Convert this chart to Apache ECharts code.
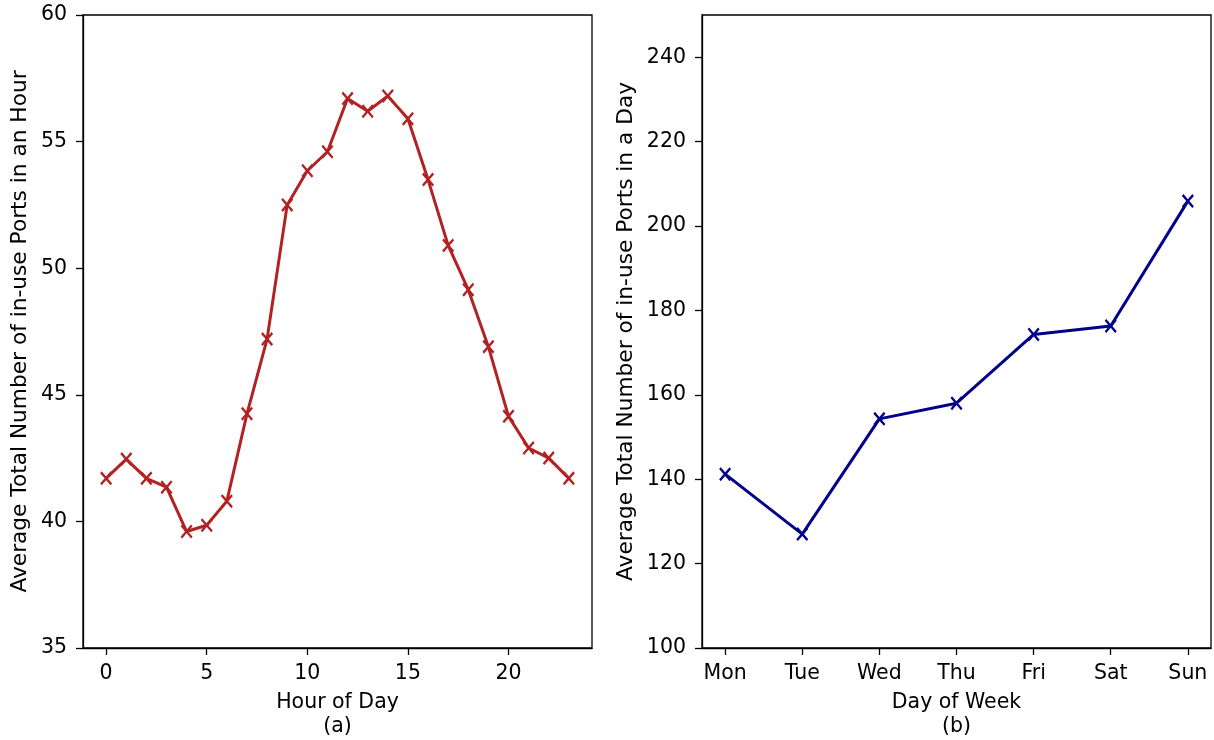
<!DOCTYPE html>
<html>
<head>
<meta charset="utf-8">
<script src="https://cdn.jsdelivr.net/npm/echarts@6/dist/echarts.min.js"></script>
<style>html,body{margin:0;padding:0;background:#fff}#c{width:1214px;height:740px}</style>
</head>
<body>
<div id="c"></div>
<script>
const hours = [0,1,2,3,4,5,6,7,8,9,10,11,12,13,14,15,16,17,18,19,20,21,22,23];
const hourValues = [41.7,42.46,41.7,41.35,39.6,39.85,40.8,44.25,47.2,52.5,53.85,54.6,56.7,56.2,56.8,55.9,53.5,50.9,49.15,46.9,44.15,42.9,42.5,41.7];
const hourTicks = [0,5,10,15,20];
const days = ['Mon','Tue','Wed','Thu','Fri','Sat','Sun'];
const dayValues = [141.2,127.0,154.3,158.0,174.3,176.3,205.9];
const hourYTicks = [35,40,45,50,55,60];
const dayYTicks = [100,120,140,160,180,200,220,240];

const FONT = 'DejaVu Sans';
const FS = 20.5;
const FSV = 21.7;
const XSYM = 'path://M1.3,0 L5,3.7 L8.7,0 L10,1.3 L6.3,5 L10,8.7 L8.7,10 L5,6.3 L1.3,10 L0,8.7 L3.7,5 L0,1.3 Z';
const AX = '#000';

function tick(vals){
  return {show:true,length:7,lineStyle:{color:AX,width:1.3},customValues:vals};
}
function label(vals, margin, fmt){
  const o = {customValues:vals,fontFamily:FONT,fontSize:FS,color:'#000',margin:margin};
  if (fmt) o.formatter = fmt;
  return o;
}
const axisLine = {show:true,onZero:false,lineStyle:{color:AX,width:1.3}};
const xName = {fontFamily:FONT,fontSize:FS,color:'#000',lineHeight:24};
const yName = {fontFamily:FONT,fontSize:FSV,color:'#000',lineHeight:26};

const chart = echarts.init(document.getElementById('c'), null, {renderer:'canvas'});
chart.setOption({
  backgroundColor:'#fff',
  animation:false,
  grid:[
    {left:83,top:15,width:509,height:633,show:true,borderColor:AX,borderWidth:1.3,backgroundColor:'transparent',containLabel:false,outerBoundsMode:'none'},
    {left:702,top:15,width:509,height:633,show:true,borderColor:AX,borderWidth:1.3,backgroundColor:'transparent',containLabel:false,outerBoundsMode:'none'}
  ],
  xAxis:[
    {type:'value',gridIndex:0,min:-1.15,max:24.15,
     name:'Hour of Day\n(a)',nameLocation:'middle',nameGap:43,nameTextStyle:xName,
     axisLine:axisLine,splitLine:{show:false},
     axisTick:tick(hourTicks),axisLabel:label(hourTicks,15)},
    {type:'value',gridIndex:1,min:-0.3,max:6.3,
     name:'Day of Week\n(b)',nameLocation:'middle',nameGap:43,nameTextStyle:xName,
     axisLine:axisLine,splitLine:{show:false},
     axisTick:tick(days.map((d,i)=>i)),axisLabel:label(days.map((d,i)=>i),15,v=>days[Math.round(v)])}
  ],
  yAxis:[
    {type:'value',gridIndex:0,min:35,max:60,
     name:'Average Total Number of in-use Ports in an Hour',nameLocation:'middle',nameGap:50,nameTextStyle:yName,
     axisLine:axisLine,splitLine:{show:false},
     axisTick:tick(hourYTicks),axisLabel:label(hourYTicks,16)},
    {type:'value',gridIndex:1,min:100,max:250,
     name:'Average Total Number of in-use Ports in a Day',nameLocation:'middle',nameGap:63,nameTextStyle:yName,
     axisLine:axisLine,splitLine:{show:false},
     axisTick:tick(dayYTicks),axisLabel:label(dayYTicks,16)}
  ],
  series:[
    {type:'line',xAxisIndex:0,yAxisIndex:0,data:hours.map((h,i)=>[h,hourValues[i]]),
     symbol:XSYM,symbolSize:[12,14],showAllSymbol:true,
     lineStyle:{color:'#b22222',width:3},itemStyle:{color:'#b22222'}},
    {type:'line',xAxisIndex:1,yAxisIndex:1,data:days.map((d,i)=>[i,dayValues[i]]),
     symbol:XSYM,symbolSize:[12,14],showAllSymbol:true,
     lineStyle:{color:'#00008b',width:3},itemStyle:{color:'#00008b'}}
  ]
});
</script>
</body>
</html>
